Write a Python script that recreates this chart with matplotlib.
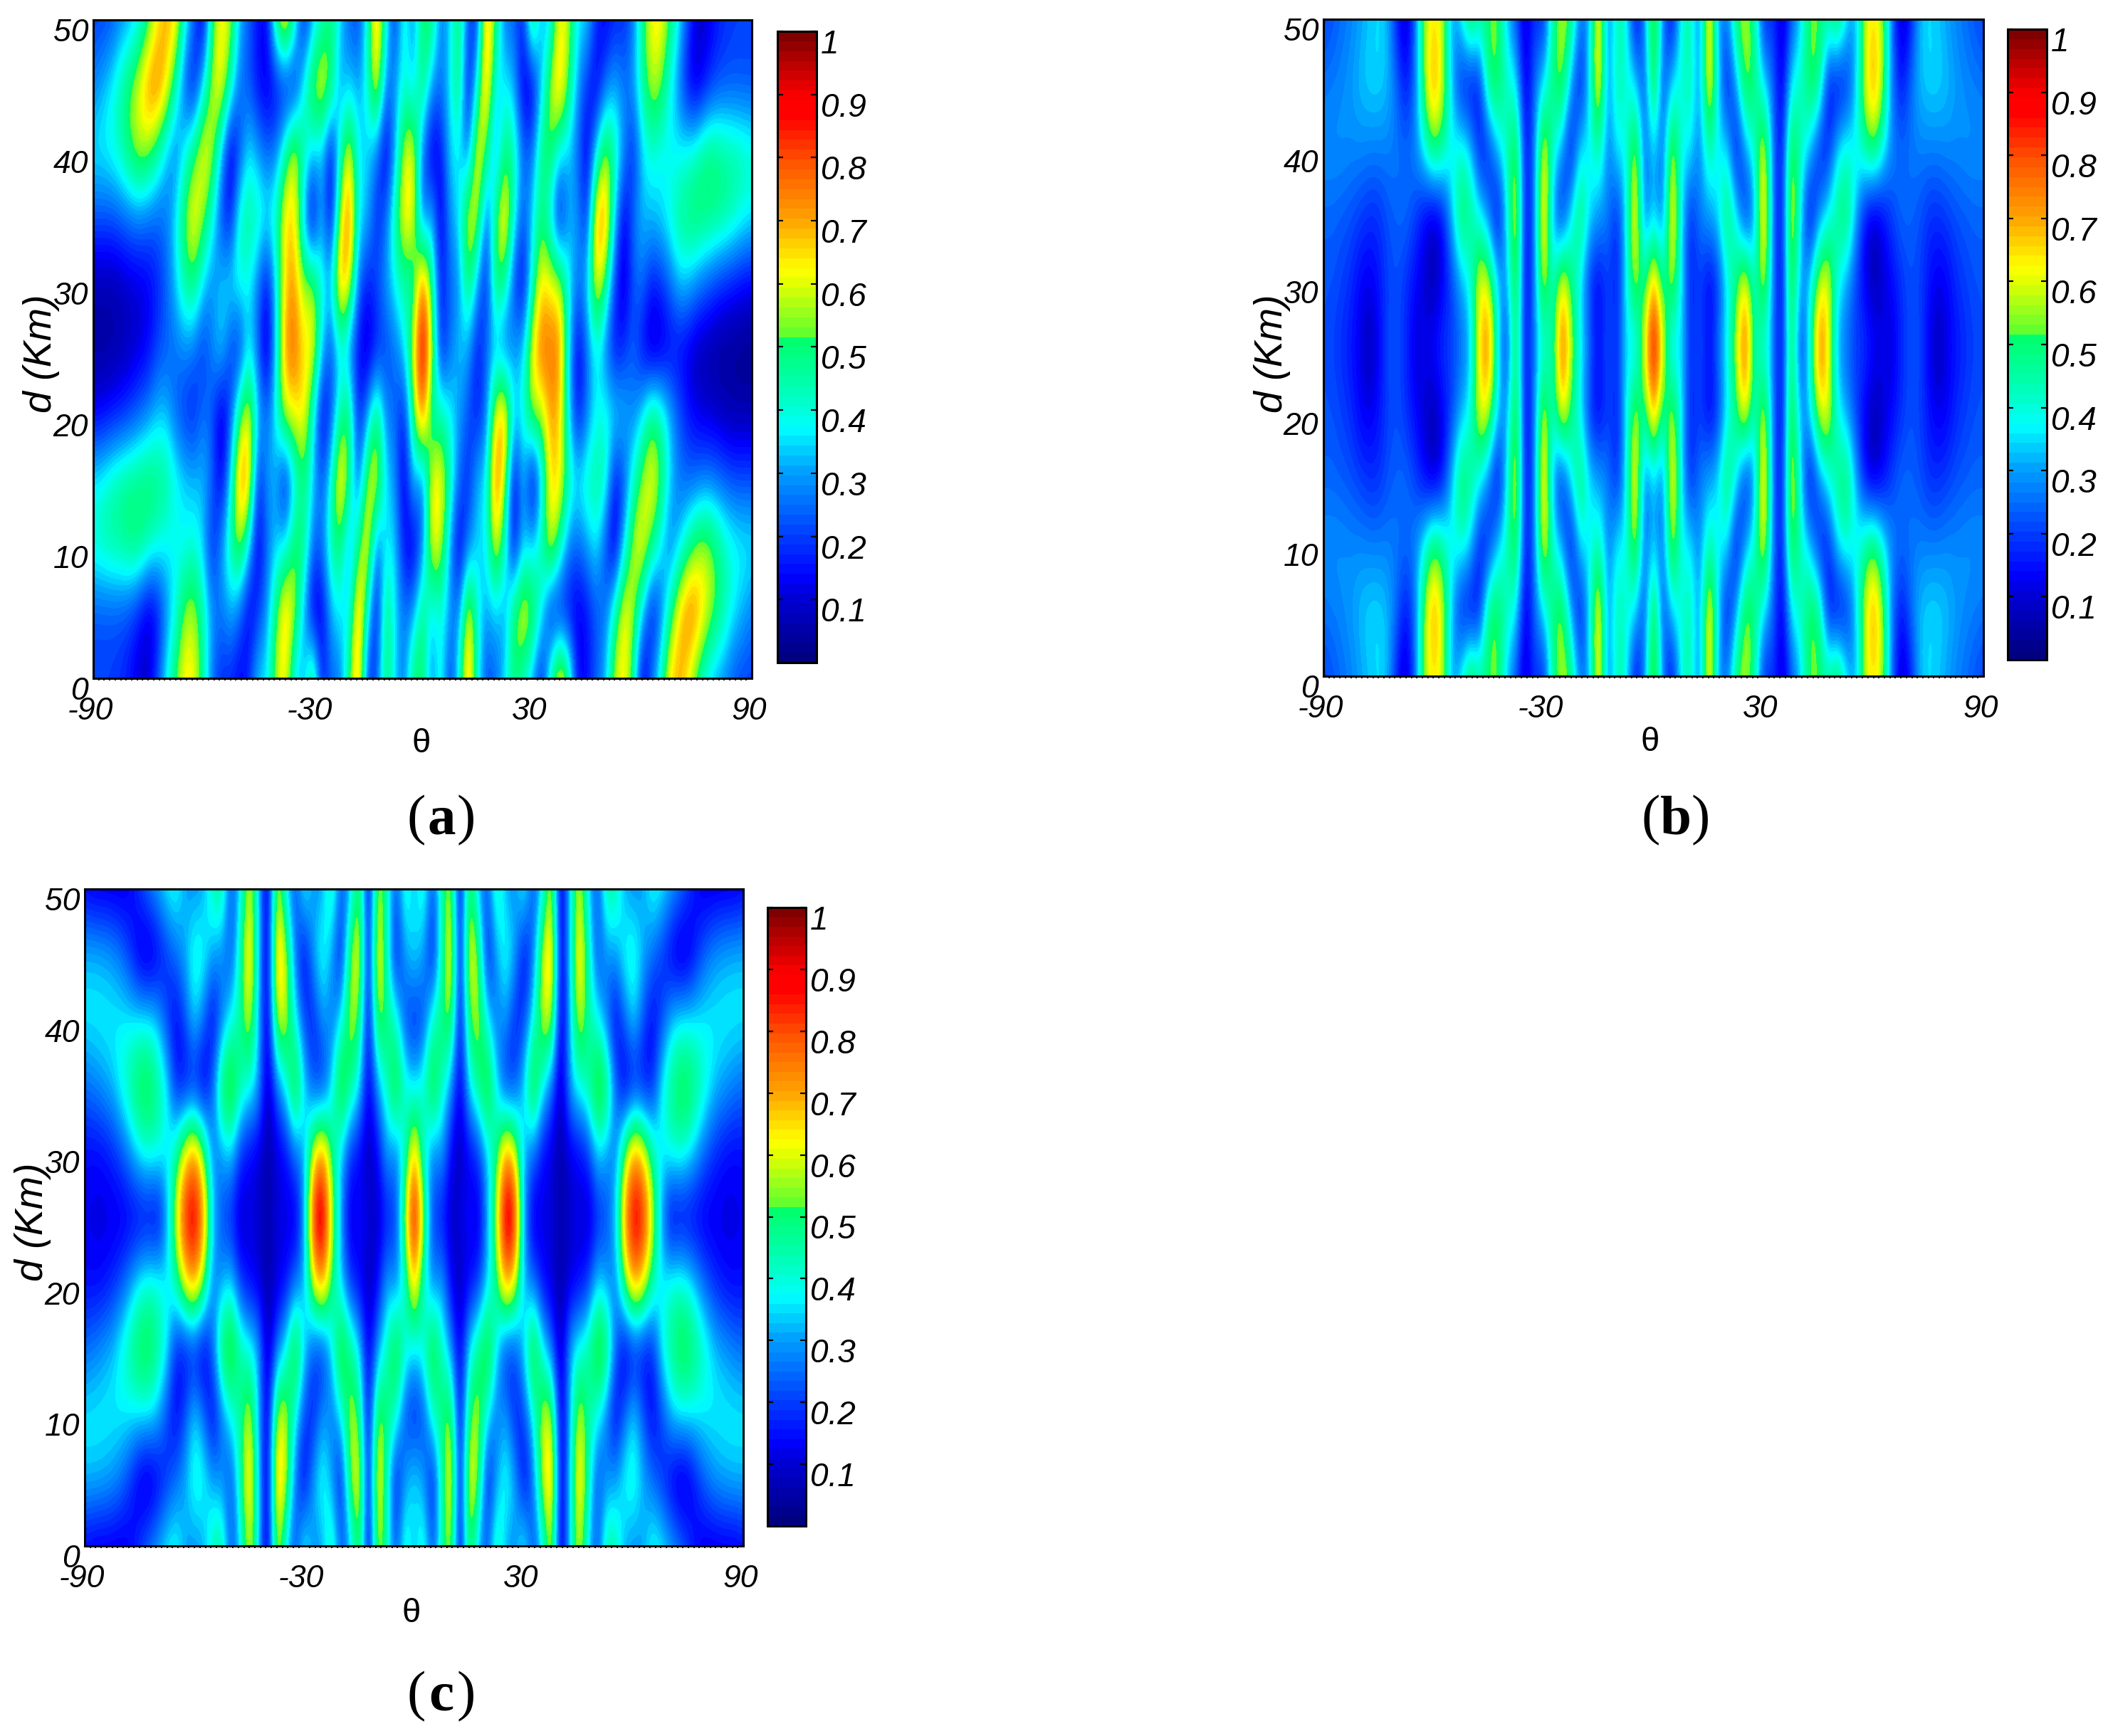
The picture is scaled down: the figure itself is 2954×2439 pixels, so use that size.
import numpy as np
import matplotlib
matplotlib.use("Agg")
import matplotlib.pyplot as plt
from matplotlib.colors import LinearSegmentedColormap
from matplotlib.transforms import ScaledTranslation

W, H, DPI = 2954, 2439, 100
plt.rcParams['font.family'] = ['Liberation Sans', 'DejaVu Sans']

# ---------- values (theta grid is 2.5 deg) ----------
# panel (a): theta -90..0 and 0..90, rows d = 25..50; the picture is point symmetric about (0, 25)
a_left_25 = [.05,.04,.05,.06,.08,.10,.13,.20,.23,.25,.28,.25,.18,.28,.36,.20,.15,.36,.24,.05,.35,.74,.78,.64,.66,.35,.20,.36,.25,.13,.07,.15,.20,.25,.35,.60,.97]
a_left_30 = [.06,.06,.06,.07,.09,.10,.12,.16,.24,.34,.46,.50,.35,.27,.34,.38,.40,.38,.26,.13,.35,.66,.72,.55,.58,.40,.35,.76,.64,.25,.15,.22,.30,.38,.45,.40,.80]
a_left_35 = [.22,.22,.22,.24,.26,.27,.25,.24,.26,.36,.54,.66,.55,.40,.20,.14,.44,.47,.44,.38,.44,.66,.66,.30,.05,.34,.08,.58,.80,.36,.34,.16,.25,.46,.66,.64,.20]
a_left_40 = [.38,.38,.40,.44,.52,.58,.55,.45,.32,.25,.37,.50,.66,.58,.34,.07,.20,.37,.30,.24,.27,.45,.64,.46,.34,.34,.10,.42,.64,.36,.34,.26,.08,.30,.60,.64,.28]
a_left_45 = [.27,.32,.37,.45,.53,.62,.75,.78,.66,.44,.22,.12,.35,.58,.66,.44,.25,.22,.14,.10,.12,.12,.12,.38,.58,.65,.54,.28,.34,.30,.40,.68,.26,.30,.40,.33,.55]
a_left_50 = [.20,.20,.22,.27,.30,.36,.46,.62,.70,.66,.42,.25,.08,.48,.65,.58,.32,.24,.15,.12,.52,.72,.45,.14,.30,.42,.50,.35,.24,.20,.40,.74,.40,.16,.44,.25,.52]
a_right_25 = [.97,.60,.14,.25,.34,.30,.14,.25,.30,.20,.30,.33,.64,.78,.76,.76,.35,.10,.25,.38,.25,.13,.18,.24,.13,.05,.07,.12,.12,.10,.06,.05,.04,.03,.03,.02,.02]
a_right_30 = [.80,.50,.14,.25,.27,.54,.30,.14,.54,.46,.20,.10,.40,.66,.62,.60,.40,.25,.35,.66,.50,.20,.07,.22,.26,.16,.18,.24,.33,.33,.28,.24,.20,.17,.15,.13,.12]
a_right_35 = [.20,.36,.08,.30,.35,.64,.60,.20,.50,.72,.40,.22,.35,.50,.34,.10,.30,.30,.15,.72,.75,.35,.10,.25,.33,.33,.35,.40,.47,.50,.52,.50,.49,.47,.44,.40,.38]
a_right_40 = [.25,.08,.14,.35,.36,.22,.68,.50,.25,.50,.46,.25,.25,.50,.54,.36,.34,.24,.10,.35,.58,.46,.30,.15,.34,.40,.37,.37,.37,.40,.44,.50,.50,.47,.46,.44,.42]
a_right_45 = [.52,.30,.25,.36,.53,.10,.40,.75,.35,.37,.32,.10,.08,.32,.58,.72,.50,.30,.18,.10,.24,.32,.26,.30,.45,.58,.55,.38,.27,.12,.08,.15,.20,.22,.22,.22,.22]
a_right_50 = [.52,.52,.25,.34,.52,.22,.16,.75,.50,.25,.25,.15,.58,.30,.35,.64,.58,.35,.36,.18,.12,.17,.17,.25,.46,.63,.65,.52,.38,.22,.10,.10,.15,.18,.20,.20,.20]

# panel (b): theta 0..90, rows d = 25..50; mirrored left/right and about d = 25
b_25 = [.97,.62,.28,.38,.15,.25,.12,.27,.38,.58,.84,.42,.38,.28,.10,.58,.15,.38,.80,.65,.30,.25,.20,.20,.15,.12,.10,.18,.22,.22,.12,.06,.12,.15,.18,.20,.22]
b_30 = [.75,.42,.62,.36,.15,.20,.12,.17,.36,.48,.68,.38,.65,.25,.10,.62,.28,.35,.60,.64,.38,.30,.20,.12,.06,.10,.14,.18,.22,.20,.15,.12,.13,.18,.20,.22,.22]
b_35 = [.34,.22,.72,.36,.15,.28,.30,.36,.54,.38,.13,.28,.75,.25,.10,.68,.36,.08,.27,.38,.48,.54,.33,.13,.07,.13,.20,.25,.24,.22,.18,.18,.20,.22,.23,.24,.24]
b_40 = [.35,.22,.64,.36,.38,.25,.46,.35,.38,.10,.30,.40,.68,.25,.12,.60,.42,.34,.15,.15,.36,.42,.38,.46,.52,.38,.28,.25,.26,.27,.27,.27,.28,.28,.29,.29,.29]
b_45 = [.62,.18,.36,.40,.46,.25,.72,.36,.12,.30,.58,.50,.35,.25,.08,.38,.42,.54,.52,.14,.10,.14,.32,.60,.75,.56,.25,.14,.25,.33,.35,.35,.33,.30,.28,.27,.26]
b_50 = [.64,.28,.10,.40,.46,.22,.72,.30,.25,.52,.58,.46,.15,.20,.07,.22,.32,.54,.52,.46,.58,.38,.28,.58,.65,.55,.24,.07,.15,.33,.35,.33,.30,.27,.25,.22,.20]

# panel (c): theta 0..90, rows d = 25..50; mirrored left/right and about d = 25
c_25 = [.95,.60,.18,.15,.08,.12,.15,.08,.30,.60,.98,.90,.28,.08,.12,.12,.05,.10,.12,.07,.15,.20,.35,.75,.92,.88,.62,.30,.07,.10,.10,.10,.10,.11,.11,.12,.12]
c_30 = [.72,.38,.25,.32,.12,.07,.12,.18,.33,.48,.75,.62,.30,.25,.13,.10,.05,.10,.12,.18,.35,.30,.25,.55,.75,.65,.45,.36,.42,.42,.38,.30,.22,.17,.14,.13,.14]
c_35 = [.35,.42,.62,.42,.30,.08,.38,.48,.64,.35,.15,.20,.36,.64,.38,.25,.05,.33,.40,.46,.64,.56,.25,.07,.12,.12,.15,.38,.47,.56,.55,.47,.40,.33,.30,.27,.25]
c_40 = [.15,.20,.42,.50,.58,.08,.52,.58,.36,.25,.30,.15,.20,.38,.58,.62,.05,.32,.62,.45,.38,.25,.10,.25,.36,.22,.12,.20,.33,.37,.37,.37,.37,.37,.37,.37,.37]
c_45 = [.38,.30,.12,.42,.72,.06,.68,.55,.12,.30,.42,.32,.10,.25,.60,.74,.04,.35,.72,.45,.20,.28,.30,.40,.42,.32,.25,.18,.10,.05,.08,.18,.26,.30,.32,.33,.33]
c_50 = [.30,.45,.20,.45,.60,.06,.58,.30,.22,.48,.30,.28,.42,.20,.35,.62,.04,.35,.62,.35,.20,.48,.45,.30,.28,.30,.40,.38,.32,.27,.20,.13,.10,.10,.10,.10,.12]

# colormap anchors
cmap_stops = [0, .10, .13, .20, .30, .37, .42, .515, .52, .60, .625, .70, .80, .87, .90, .95, 1]
cmap_colors = ['#000080', '#0000d8', '#0000ff', '#0040ff', '#00a0ff', '#00ffff', '#00ffc0',
               '#00ff68', '#60ff30', '#e0ff00', '#ffff00', '#ffa800', '#ff5000', '#ff0000',
               '#ff0000', '#c00000', '#800000']

y_ticks = [0, 10, 20, 30, 40, 50]
x_ticks = [-90, -30, 30, 90]
cbar_ticks = [.1, .2, .3, .4, .5, .6, .7, .8, .9, 1]
cbar_labels = ['0.1', '0.2', '0.3', '0.4', '0.5', '0.6', '0.7', '0.8', '0.9', '1']

# ---------- grids ----------
def quarter(rows):
    upper = np.array(rows)
    right_full = np.hstack([upper[:, :0:-1], upper])
    return np.vstack([right_full[:0:-1], right_full])

def central(left_rows, right_rows):
    upper = np.hstack([np.array(left_rows)[:, :-1], np.array(right_rows)])
    return np.vstack([upper[:0:-1, ::-1], upper])

grid_a = central([a_left_25, a_left_30, a_left_35, a_left_40, a_left_45, a_left_50],
                 [a_right_25, a_right_30, a_right_35, a_right_40, a_right_45, a_right_50])
grid_b = quarter([b_25, b_30, b_35, b_40, b_45, b_50])
grid_c = quarter([c_25, c_30, c_35, c_40, c_45, c_50])

cmap = LinearSegmentedColormap.from_list('ref_jet', list(zip(cmap_stops, cmap_colors)), N=64)

fig = plt.figure(figsize=(W / DPI, H / DPI), dpi=DPI, facecolor='white')

def px_axes(l, t, r, b):
    return fig.add_axes([l / W, 1 - b / H, (r - l) / W, (b - t) / H])

def panel(grid, box, cbox, letter, letter_xy, theta_xy, d_xy):
    ax = px_axes(*box)
    im = ax.imshow(grid, origin='lower', aspect='auto', cmap=cmap, vmin=0, vmax=1,
                   extent=[-91.25, 91.25, -2.5, 52.5],
                   interpolation='bicubic', interpolation_stage='data')
    ax.set_xlim(-90, 90)
    ax.set_ylim(0, 50)
    for s in ax.spines.values():
        s.set_linewidth(2.2)
    ax.set_xticks(x_ticks)
    ax.set_xticklabels([str(v) for v in x_ticks], fontsize=32, style='italic')
    ax.set_xticks(np.arange(-90, 90.1, 1.5), minor=True)
    ax.tick_params(axis='x', which='major', length=0, pad=19)
    ax.tick_params(axis='x', which='minor', length=2.5, width=1.4, direction='out')
    ax.set_yticks(y_ticks)
    ax.set_yticklabels([str(v) for v in y_ticks], fontsize=32, style='italic')
    ax.tick_params(axis='y', length=0, pad=5)
    shift = ScaledTranslation(0, -14 / DPI, fig.dpi_scale_trans)
    xshift = ScaledTranslation(-4 / DPI, 0, fig.dpi_scale_trans)
    for lab in ax.get_yticklabels():
        lab.set_transform(lab.get_transform() + shift)
    for lab in ax.get_xticklabels():
        lab.set_transform(lab.get_transform() + xshift)

    cax = px_axes(*cbox)
    cb = fig.colorbar(im, cax=cax)
    cb.set_ticks(cbar_ticks)
    cb.set_ticklabels(cbar_labels)
    cb.minorticks_off()
    cax.tick_params(axis='y', which='major', direction='in', length=6, width=1.6,
                    left=True, right=True, labelsize=33, pad=4)
    cb.outline.set_linewidth(2.2)
    for lab in cax.get_yticklabels():
        lab.set_style('italic')
        lab.set_transform(lab.get_transform() + shift)

    fig.text(theta_xy[0] / W, 1 - theta_xy[1] / H, '\u03b8', fontsize=34,
             ha='center', va='center')
    fig.text(d_xy[0] / W, 1 - d_xy[1] / H, 'd (Km)', fontsize=40, style='italic',
             rotation=90, ha='center', va='center')
    lx, ly = letter_xy
    serif = ['Liberation Serif', 'DejaVu Serif']
    fig.text((lx - 22) / W, 1 - ly / H, '(', fontsize=57, family=serif, ha='right', va='center')
    fig.text(lx / W, 1 - ly / H, letter, fontsize=57, family=serif, weight='bold', ha='center', va='center')
    fig.text((lx + 22) / W, 1 - ly / H, ')', fontsize=57, family=serif, ha='left', va='center')

panel(grid_a, (131, 28, 1056, 953), (1092, 44, 1147, 931), 'a', (620, 1153), (592, 1045), (58, 497))
panel(grid_b, (1859, 27, 2786, 950), (2820, 41, 2875, 927), 'b', (2354, 1153), (2318, 1043), (1787, 497))
panel(grid_c, (119, 1249, 1044, 2172), (1078, 1275, 1132, 2144), 'c', (620, 2384), (578, 2267), (46, 1717))

fig.savefig('out.png', dpi=DPI, facecolor='white')
